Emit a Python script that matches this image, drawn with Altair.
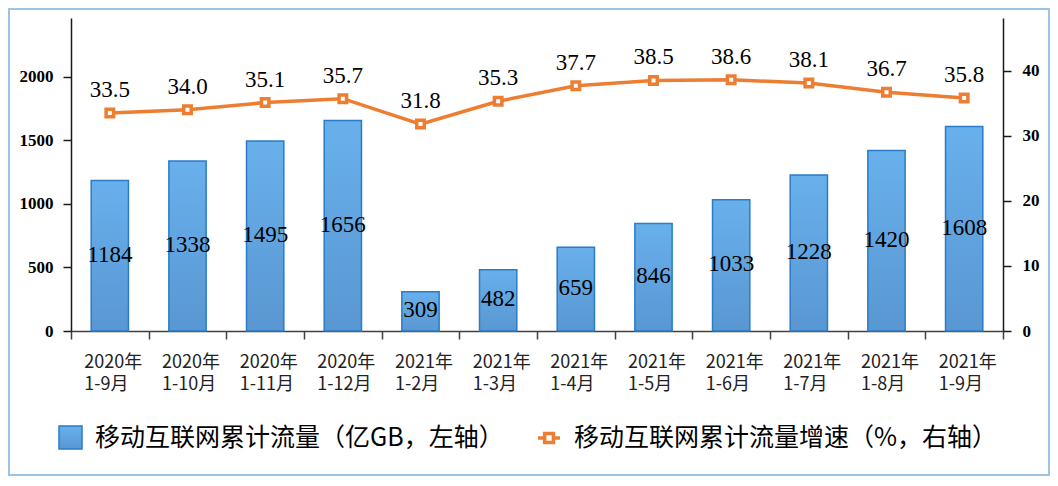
import altair as alt
import pandas as pd

years = ["2020年"] * 4 + ["2021年"] * 8
months = ["1-9月", "1-10月", "1-11月", "1-12月", "1-2月", "1-3月",
          "1-4月", "1-5月", "1-6月", "1-7月", "1-8月", "1-9月"]
traffic = [1184, 1338, 1495, 1656, 309, 482, 659, 846, 1033, 1228, 1420, 1608]
growth = [33.5, 34.0, 35.1, 35.7, 31.8, 35.3, 37.7, 38.5, 38.6, 38.1, 36.7, 35.8]
left_ticks = [0, 500, 1000, 1500, 2000]
right_ticks = [0, 10, 20, 30, 40]
bar_name = "移动互联网累计流量（亿GB，左轴）"
line_name = "移动互联网累计流量增速（%，右轴）"

cats = [f"{y}|{m}" for y, m in zip(years, months)]
df = pd.DataFrame({"cat": cats, "traffic": traffic, "growth": growth,
                   "bar_s": bar_name, "line_s": line_name})

W, H = 932, 313
PAD = {"left": 63, "top": 10, "right": 1042 - 63 - W, "bottom": 468 - 10 - H}

x = alt.X("cat:N", sort=cats,
          scale=alt.Scale(paddingInner=0, paddingOuter=0),
          axis=alt.Axis(title=None, labelExpr="split(datum.label, '|')", labelAngle=0,
                        labelAlign="left", labelOffset=-26, labelBaseline="top",
                        labelFont="Noto Sans CJK SC", labelFontSize=18, labelLineHeight=22,
                        labelPadding=14, tickBand="extent", tickSize=8, tickColor="#404040",
                        tickWidth=1.5, domainColor="#404040", domainWidth=1.5,
                        labelColor="#222222", labelOverlap=False))

left_scale = alt.Scale(domain=[0, 2462], nice=False)
right_scale = alt.Scale(domain=[0, 48.1], nice=False)

left_axis = alt.Axis(orient="left", values=left_ticks, title=None, grid=False, format="d",
                     labelFont="Liberation Serif", labelFontWeight="bold", labelFontSize=17,
                     tickSize=8, labelPadding=10, domainColor="#1a1a1a", domainWidth=1.5,
                     tickColor="#1a1a1a", tickWidth=1.5, labelColor="#000000")
right_axis = alt.Axis(orient="right", values=right_ticks, title=None, grid=False, format="d",
                      labelFont="Liberation Serif", labelFontWeight="bold", labelFontSize=17,
                      tickSize=8, labelPadding=11, domainColor="#1a1a1a", domainWidth=1.5,
                      tickColor="#1a1a1a", tickWidth=1.5, labelColor="#000000")

grad = alt.Gradient(gradient="linear",
                    stops=[alt.GradientStop(color="#68b0ec", offset=0),
                           alt.GradientStop(color="#5997d2", offset=1)],
                    x1=0, x2=0, y1=0, y2=1)

bars = alt.Chart(df).mark_bar(fill=grad, strokeWidth=1.5,
                              width=alt.RelativeBandSize(0.48)).encode(
    x=x,
    y=alt.Y("traffic:Q", scale=left_scale, axis=left_axis),
    stroke=alt.Stroke("bar_s:N", scale=alt.Scale(range=["#2a7cc7"]),
                      legend=alt.Legend(title=None, orient="none", legendX=-13, legendY=407,
                                        symbolType="square", symbolSize=529,
                                        symbolStrokeWidth=1.5, symbolFillColor="#5fa4e3",
                                        labelFont="Noto Sans CJK SC", labelFontSize=25,
                                        labelLimit=0, labelOffset=12, padding=0,
                                        labelColor="#000000")),
)
bar_text = alt.Chart(df).transform_calculate(mid="datum.traffic / 2").mark_text(
    font="Liberation Serif", fontSize=23, baseline="middle", color="#000000", dy=-1
).encode(
    x=x,
    y=alt.Y("mid:Q", scale=left_scale, axis=left_axis),
    text=alt.Text("traffic:Q", format="d"),
)
bar_layer = alt.layer(bars, bar_text)

line = alt.Chart(df).mark_line(color="#ed7d31", strokeWidth=3.5).encode(
    x=x,
    y=alt.Y("growth:Q", scale=right_scale, axis=right_axis),
)
points = alt.Chart(df).mark_point(shape="square", filled=False, fill="white", strokeWidth=3.5,
                                  size=56, opacity=1).encode(
    x=x,
    y=alt.Y("growth:Q", scale=right_scale, axis=right_axis),
    color=alt.Color("line_s:N", scale=alt.Scale(range=["#ed7d31"]),
                    legend=alt.Legend(title=None, orient="none", legendX=465, legendY=407,
                                      symbolType="M-1,0H-0.55M0.55,0H1M-0.4,-0.4H0.4V0.4H-0.4Z",
                                      symbolSize=484, symbolStrokeWidth=3.5,
                                      symbolFillColor="white",
                                      labelFont="Noto Sans CJK SC", labelFontSize=25,
                                      labelLimit=0, labelOffset=12, padding=0,
                                      labelColor="#000000")),
)
line_text = alt.Chart(df).mark_text(font="Liberation Serif", fontSize=23, baseline="alphabetic",
                                    dy=-16, color="#000000").encode(
    x=x,
    y=alt.Y("growth:Q", scale=right_scale, axis=right_axis),
    text=alt.Text("growth:Q", format=".1f"),
)
line_layer = alt.layer(line, points, line_text)

border = alt.Chart(alt.Data(values=[{}])).mark_rect(
    fillOpacity=0, stroke="#9dc3e6", strokeWidth=2
).encode(
    x=alt.value(-62), x2=alt.value(W + PAD["right"] - 1),
    y=alt.value(-9), y2=alt.value(H + PAD["bottom"] - 1),
)

chart = alt.layer(border, bar_layer, line_layer).resolve_scale(y="independent").properties(
    width=W, height=H, padding=PAD,
    autosize=alt.AutoSizeParams(type="none"),
    background="white",
).configure_view(stroke=None)

chart.save("out.html", embed_options={"renderer": "svg", "actions": False})
